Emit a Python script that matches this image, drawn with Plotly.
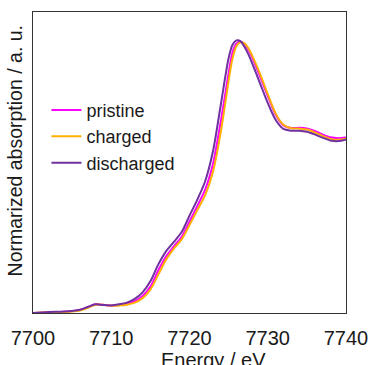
import plotly.graph_objects as go

energy = [7700, 7702, 7704, 7706, 7707, 7708, 7709, 7710, 7711, 7712, 7713, 7714, 7715,
          7716, 7717, 7718, 7719, 7720, 7721, 7722, 7723, 7724, 7725, 7725.5, 7726,
          7726.5, 7727, 7727.5, 7728, 7729, 7730, 7731, 7732, 7733, 7734, 7735, 7736,
          7737, 7738, 7739, 7740]

pristine = [0.0, 0.005, 0.007, 0.017, 0.033, 0.05, 0.047, 0.043, 0.046, 0.053, 0.068, 0.098,
            0.152, 0.245, 0.326, 0.385, 0.44, 0.528, 0.618, 0.712, 0.86, 1.105, 1.385, 1.505,
            1.556, 1.565, 1.554, 1.522, 1.477, 1.367, 1.252, 1.145, 1.083, 1.068, 1.069, 1.065,
            1.051, 1.031, 1.014, 1.009, 1.013]

charged = [0.0, 0.004, 0.006, 0.015, 0.03, 0.048, 0.047, 0.042, 0.043, 0.048, 0.06, 0.086,
           0.135, 0.22, 0.308, 0.372, 0.425, 0.508, 0.594, 0.68, 0.815, 1.045, 1.34, 1.47,
           1.54, 1.562, 1.558, 1.53, 1.487, 1.382, 1.263, 1.152, 1.086, 1.066, 1.064, 1.059,
           1.042, 1.022, 1.005, 1.0, 1.006]

discharged = [0.0, 0.006, 0.008, 0.019, 0.035, 0.05, 0.046, 0.044, 0.05, 0.06, 0.081, 0.119,
              0.183, 0.279, 0.356, 0.41, 0.467, 0.562, 0.654, 0.76, 0.933, 1.202, 1.471,
              1.548, 1.573, 1.569, 1.538, 1.495, 1.442, 1.327, 1.212, 1.115, 1.062, 1.052,
              1.052, 1.046, 1.031, 1.012, 0.996, 0.992, 1.002]

series_names = ["pristine", "charged", "discharged"]
colors = ["#FF00FF", "#FFB000", "#7030A0"]
x_ticks = [7700, 7710, 7720, 7730, 7740]

fig = go.Figure()
for name, ys, c in zip(series_names, [pristine, charged, discharged], colors):
    fig.add_trace(go.Scatter(x=energy, y=ys, name=name, mode="lines",
                             line=dict(color=c, width=2, shape="spline", smoothing=0.8)))

font_family = "Liberation Sans, Arial, sans-serif"
fig.update_layout(
    width=370, height=365,
    margin=dict(l=33, r=24, t=12, b=52, autoexpand=False),
    paper_bgcolor="white", plot_bgcolor="white",
    font=dict(family=font_family, color="#1a1a1a"),
    showlegend=True,
    legend=dict(x=0.043, y=0.735, xanchor="left", yanchor="top",
                bgcolor="rgba(0,0,0,0)", font=dict(size=18, family=font_family),
                tracegroupgap=0, itemwidth=30),
    xaxis=dict(range=[7700, 7740], tickvals=x_ticks, ticktext=[str(t) for t in x_ticks],
               showgrid=False, zeroline=False, showline=True, mirror=True,
               linecolor="#333333", linewidth=1, ticks="", ticklabelstandoff=7,
               automargin=False, tickfont=dict(size=20, family=font_family)),
    yaxis=dict(range=[0, 1.737], showticklabels=False, showgrid=False, zeroline=False,
               showline=True, mirror=True, linecolor="#333333", linewidth=1, ticks="",
               automargin=False),
    annotations=[
        dict(text="Energy / eV", xref="paper", yref="paper", x=0.578, y=-0.113,
             xanchor="center", yanchor="top", showarrow=False,
             font=dict(size=20, family=font_family)),
        dict(text="Normarized absorption / a. u.", xref="paper", yref="paper",
             x=-0.016, y=0.54, xanchor="right", yanchor="middle", showarrow=False,
             textangle=-90, font=dict(size=19.5, family=font_family)),
    ],
)

fig.write_html("out.html", config={"displayModeBar": False},
               post_script="document.body.style.margin='0';document.body.style.overflow='hidden';")
